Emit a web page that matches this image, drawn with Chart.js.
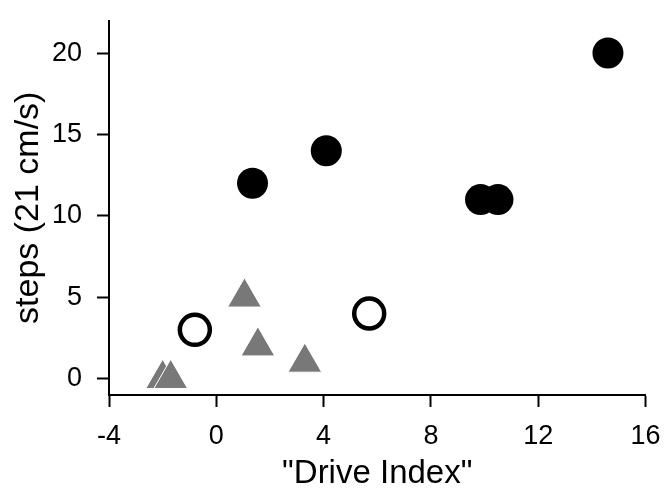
<!DOCTYPE html>
<html lang="en">
<head>
  <meta charset="UTF-8">
  <title>Steps vs Drive Index</title>
  <script src="https://cdn.jsdelivr.net/npm/chart.js"></script>
  <style>
    html, body {
      margin: 0;
      padding: 0;
      background: #fff;
    }
    #wrap {
      width: 666px;
      height: 488px;
    }
  </style>
</head>
<body>
  <div id="wrap"><canvas id="chart" width="666" height="488"></canvas></div>

  <script>
    // filled black circles
    const filledX = [1.35, 4.1, 9.85, 10.5, 14.6];
    const filledY = [12, 14, 11, 11, 20];

    // open circles
    const openX = [-0.8, 5.7];
    const openY = [3, 4];

    // grey triangles (the one at -2.0 sits behind the one at -1.7)
    const triX = [-2.0, -1.7, 1.05, 1.55, 3.3];
    const triY = [0, 0, 5, 2, 1];

    const xTicks = [-4, 0, 4, 8, 12, 16];
    const yTicks = [0, 5, 10, 15, 20];

    const toPoints = (xs, ys) => xs.map((x, i) => ({ x: x, y: ys[i] }));

    const font = "'Liberation Sans', Arial, sans-serif";

    const axisCommon = {
      border: { display: true, color: '#000', width: 2 },
      grid: {
        display: true,
        drawOnChartArea: false,
        drawTicks: true,
        tickLength: 12,
        tickWidth: 2,
        tickColor: '#000'
      }
    };

    new Chart(document.getElementById('chart'), {
      type: 'scatter',
      data: {
        datasets: [
          {
            label: 'triangles',
            data: toPoints(triX, triY),
            pointStyle: 'triangle',
            pointRadius: 19.5,
            backgroundColor: '#787878',
            borderColor: '#fff',
            borderWidth: 1
          },
          {
            label: 'open',
            data: toPoints(openX, openY),
            pointStyle: 'circle',
            pointRadius: 15,
            backgroundColor: '#fff',
            borderColor: '#000',
            borderWidth: 4.5
          },
          {
            label: 'filled',
            data: toPoints(filledX, filledY),
            pointStyle: 'circle',
            pointRadius: 15.5,
            backgroundColor: '#000',
            borderColor: '#000',
            borderWidth: 0
          }
        ]
      },
      options: {
        responsive: false,
        animation: false,
        layout: { padding: { top: 15, right: 19, left: 0, bottom: 0 } },
        plugins: {
          legend: { display: false },
          tooltip: { enabled: false }
        },
        scales: {
          x: {
            ...axisCommon,
            min: -4,
            max: 16,
            afterBuildTicks: axis => { axis.ticks = xTicks.map(v => ({ value: v })); },
            afterFit: axis => {
              axis.height = 93;
              axis.paddingLeft = 0;
              axis.paddingRight = 0;
            },
            ticks: {
              color: '#000',
              padding: 13,
              maxRotation: 0,
              font: { family: font, size: 27 }
            },
            title: {
              display: true,
              text: '"Drive Index"',
              color: '#000',
              padding: { top: 0, bottom: 0 },
              font: { family: font, size: 33, lineHeight: 0.85 }
            }
          },
          y: {
            ...axisCommon,
            min: -1,
            max: 22,
            afterBuildTicks: axis => { axis.ticks = yTicks.map(v => ({ value: v })); },
            afterFit: axis => {
              axis.width = 109;
              axis.paddingTop = 0;
              axis.paddingBottom = 0;
            },
            ticks: {
              color: '#000',
              padding: 15,
              font: { family: font, size: 27 }
            },
            title: {
              display: true,
              text: 'steps (21 cm/s)',
              color: '#000',
              padding: { top: 12, bottom: 0 },
              font: { family: font, size: 34, lineHeight: 1 }
            }
          }
        }
      }
    });
  </script>
</body>
</html>
